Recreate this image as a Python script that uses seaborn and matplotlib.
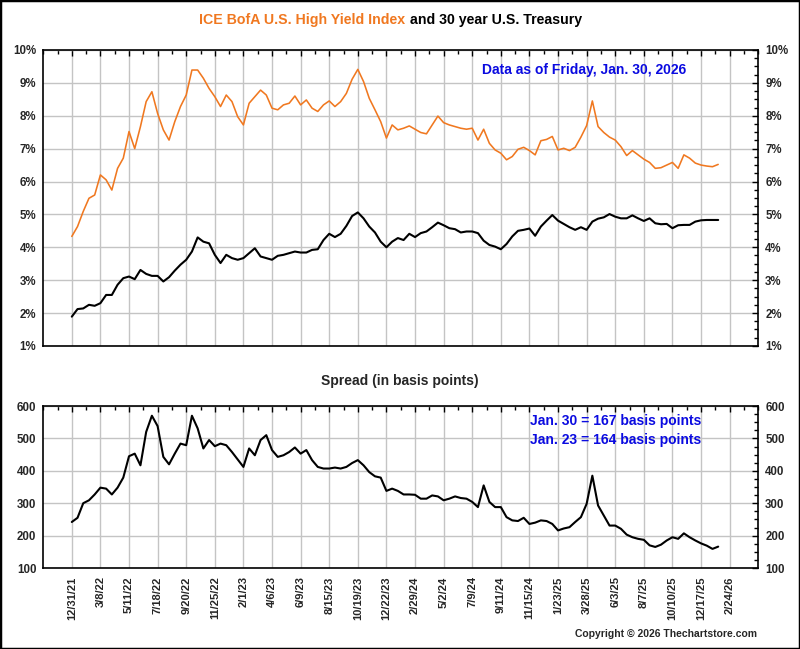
import numpy as np
import matplotlib
matplotlib.use("Agg")
import matplotlib.pyplot as plt
import seaborn as sns
from matplotlib.ticker import MultipleLocator, FuncFormatter
from matplotlib.patches import Rectangle

# one value every 9 trading days, starting 12/31/21 and ending 1/30/26
STEP = 9

hy_yield = [4.33, 4.63, 5.09, 5.49, 5.59, 6.20, 6.05, 5.74, 6.40, 6.71,
            7.52, 7.00, 7.67, 8.43, 8.73, 8.07, 7.57, 7.26, 7.82, 8.28,
            8.63, 9.39, 9.39, 9.14, 8.83, 8.58, 8.28, 8.63, 8.43, 7.97,
            7.72, 8.38, 8.58, 8.78, 8.63, 8.23, 8.18, 8.33, 8.38, 8.60,
            8.33, 8.48, 8.23, 8.13, 8.33, 8.45, 8.28, 8.43, 8.68, 9.11,
            9.41, 9.04, 8.53, 8.18, 7.82, 7.32, 7.72, 7.57, 7.62, 7.69,
            7.59, 7.49, 7.45, 7.72, 7.99, 7.79, 7.72, 7.67, 7.62, 7.59,
            7.62, 7.26, 7.59, 7.16, 6.96, 6.86, 6.66, 6.76, 6.98, 7.04,
            6.94, 6.81, 7.24, 7.28, 7.37, 6.96, 7.01, 6.94, 7.04, 7.35,
            7.70, 8.45, 7.67, 7.49, 7.35, 7.26, 7.06, 6.79, 6.94, 6.81,
            6.68, 6.58, 6.40, 6.42, 6.50, 6.58, 6.40, 6.81, 6.71, 6.56,
            6.50, 6.47, 6.45, 6.52]

treasury_30y = [1.89, 2.12, 2.14, 2.25, 2.22, 2.30, 2.55, 2.55, 2.86, 3.06,
                3.11, 3.03, 3.31, 3.19, 3.13, 3.13, 2.96, 3.09, 3.29, 3.47,
                3.62, 3.87, 4.30, 4.17, 4.12, 3.77, 3.52, 3.77, 3.67, 3.62,
                3.67, 3.82, 3.97, 3.72, 3.67, 3.62, 3.74, 3.77, 3.82, 3.87,
                3.84, 3.84, 3.92, 3.94, 4.22, 4.41, 4.31, 4.41, 4.65, 4.95,
                5.06, 4.88, 4.63, 4.45, 4.17, 4.00, 4.17, 4.28, 4.22, 4.41,
                4.31, 4.43, 4.48, 4.61, 4.75, 4.67, 4.58, 4.55, 4.45, 4.48,
                4.48, 4.43, 4.20, 4.07, 4.02, 3.94, 4.10, 4.33, 4.50, 4.53,
                4.57, 4.35, 4.63, 4.81, 4.98, 4.81, 4.71, 4.61, 4.53, 4.61,
                4.53, 4.78, 4.87, 4.91, 5.01, 4.93, 4.88, 4.88, 4.97, 4.88,
                4.80, 4.88, 4.73, 4.70, 4.71, 4.58, 4.67, 4.68, 4.68, 4.78,
                4.82, 4.83, 4.83, 4.83]

spread_bp = [242, 255, 300, 309, 327, 348, 345, 327, 348, 379,
             445, 453, 417, 520, 570, 538, 443, 420, 453, 484,
             479, 570, 531, 469, 495, 476, 484, 479, 458, 435,
             412, 469, 448, 495, 510, 464, 443, 448, 458, 472,
             453, 464, 433, 412, 407, 407, 410, 407, 412, 424,
             433, 417, 396, 383, 379, 338, 345, 338, 327, 327,
             326, 314, 314, 324, 321, 309, 314, 321, 316, 314,
             304, 288, 355, 304, 288, 288, 257, 247, 245, 255,
             236, 240, 247, 245, 236, 216, 222, 226, 242, 257,
             298, 385, 293, 262, 231, 231, 221, 203, 195, 190,
             187, 170, 165, 172, 185, 195, 190, 207, 195, 185,
             176, 169, 159, 166]

# x tick labels, one every 45 trading days
date_labels = ["12/31/21", "3/8/22", "5/11/22", "7/18/22", "9/20/22", "11/25/22",
               "2/1/23", "4/6/23", "6/9/23", "8/15/23", "10/19/23", "12/22/23",
               "2/29/24", "5/2/24", "7/9/24", "9/11/24", "11/15/24", "1/23/25",
               "3/28/25", "6/3/25", "8/7/25", "10/10/25", "12/17/25", "2/24/26"]
TICK_STEP = 45

ORANGE = "#f07820"
BLUE = "#0a0ae0"

sns.set_style("white")
plt.rcParams["font.family"] = ["Liberation Sans", "DejaVu Sans"]
plt.rcParams["font.weight"] = "bold"

day = np.arange(len(hy_yield)) * STEP
tick_pos = np.arange(len(date_labels)) * TICK_STEP

fig = plt.figure(figsize=(8, 6.49), dpi=100)
ax1 = fig.add_axes([0.054, 0.467, 0.8938, 0.456])
ax2 = fig.add_axes([0.054, 0.1248, 0.8938, 0.2496])

sns.lineplot(x=day, y=hy_yield, ax=ax1, color=ORANGE, linewidth=1.15)
sns.lineplot(x=day, y=treasury_30y, ax=ax1, color="black", linewidth=1.5)
sns.lineplot(x=day, y=spread_bp, ax=ax2, color="black", linewidth=1.5)

for ax in (ax1, ax2):
    ax.set_xlim(-TICK_STEP, tick_pos[-1] + TICK_STEP)
    ax.set_xticks(tick_pos)
    ax.xaxis.set_minor_locator(MultipleLocator(TICK_STEP / 2))
    ax.grid(True, which="major", color="#c4c4c4", linewidth=1.0)
    ax.set_axisbelow(True)
    ax.set_xlabel("")
    ax.set_ylabel("")
    for s in ax.spines.values():
        s.set_color("black")
        s.set_linewidth(1.2)
    ax.tick_params(which="both", direction="in", top=True, right=True,
                   labelright=True, labelsize=8.3, width=1, color="black")
    ax.tick_params(which="major", length=4, pad=5)
    ax.tick_params(which="minor", length=3)

ax1.set_ylim(1, 10)
ax1.yaxis.set_major_locator(MultipleLocator(1))
ax1.yaxis.set_minor_locator(MultipleLocator(0.25))
ax1.yaxis.set_major_formatter(FuncFormatter(lambda v, p: f"{v:.0f}%"))
ax1.tick_params(labelbottom=False)

ax2.set_ylim(100, 600)
ax2.yaxis.set_major_locator(MultipleLocator(100))
ax2.yaxis.set_minor_locator(MultipleLocator(25))
ax2.set_xticklabels(date_labels, rotation=90, va="top", ha="center")
ax2.tick_params(axis="x", pad=6, labelsize=8)

# titles and notes
fig.text(0.507, 0.969, "ICE BofA U.S. High Yield Index", ha="right", va="center",
         color=ORANGE, fontsize=10.2)
fig.text(0.513, 0.969, "and 30 year U.S. Treasury", ha="left", va="center",
         color="black", fontsize=10.2)
fig.text(0.73, 0.892, "Data as of Friday, Jan. 30, 2026", ha="center", va="center",
         color=BLUE, fontsize=10)
fig.text(0.5, 0.413, "Spread (in basis points)", ha="center", va="center", fontsize=10)
fig.text(0.77, 0.351, "Jan. 30 = 167 basis points", ha="center", va="center",
         color=BLUE, fontsize=10)
fig.text(0.77, 0.322, "Jan. 23 = 164 basis points", ha="center", va="center",
         color=BLUE, fontsize=10)
fig.text(0.946, 0.023, "Copyright \u00a9 2026 Thechartstore.com", ha="right", va="center",
         fontsize=7.5)

fig.patches.append(Rectangle((0, 0), 1, 1, transform=fig.transFigure, fill=False,
                             edgecolor="black", linewidth=2.5))

fig.savefig("out.png", dpi=100)
